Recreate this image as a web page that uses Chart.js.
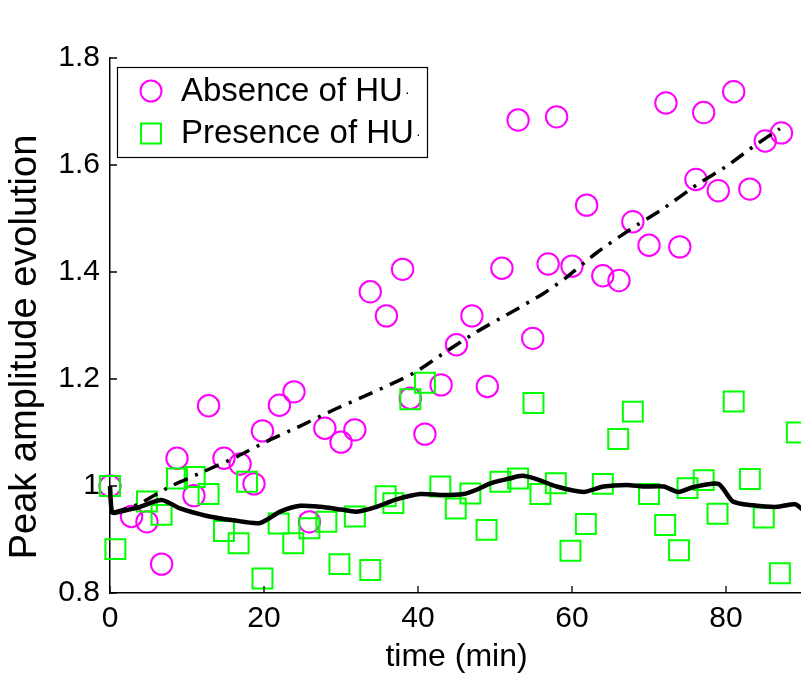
<!DOCTYPE html>
<html><head><meta charset="utf-8">
<script src="https://cdn.jsdelivr.net/npm/chart.js@4.4.1/dist/chart.umd.min.js"></script>
<style>html,body{margin:0;padding:0;background:#fff;overflow:hidden;}#wrap{width:801px;height:673px;overflow:hidden;}canvas{display:block;}</style>
</head><body><div id="wrap"><canvas id="c" width="803" height="673"></canvas></div>
<script>
// ---- data ----
const absenceTime = [0, 2.8, 4.8, 6.7, 8.7, 10.9, 12.8, 14.8, 16.9, 18.7, 19.8, 22.0, 23.9, 25.9, 27.9, 30.0, 31.8, 33.8, 35.9, 38.0, 39.0, 40.9, 43.0, 45.0, 47.0, 49.0, 50.9, 53.0, 54.9, 56.9, 58.0, 60.0, 61.9, 64.0, 66.1, 67.9, 70.0, 72.2, 74.0, 76.1, 77.1, 79.0, 81.0, 83.1, 85.1, 87.2];
const absenceAmp = [1.0, 0.943, 0.933, 0.854, 1.052, 0.982, 1.150, 1.052, 1.041, 1.004, 1.103, 1.151, 1.176, 0.933, 1.108, 1.082, 1.105, 1.363, 1.318, 1.405, 1.164, 1.097, 1.189, 1.264, 1.318, 1.186, 1.407, 1.684, 1.276, 1.415, 1.690, 1.411, 1.525, 1.393, 1.384, 1.494, 1.450, 1.716, 1.447, 1.573, 1.698, 1.552, 1.737, 1.555, 1.645, 1.660];
const presenceTime = [0, 0.7, 4.8, 6.7, 8.7, 11.0, 12.8, 14.8, 16.7, 17.8, 19.8, 21.9, 23.8, 25.9, 28.1, 29.8, 31.8, 33.8, 35.8, 36.8, 39.0, 40.9, 42.9, 44.9, 46.8, 48.9, 50.7, 53.0, 55.0, 55.9, 57.9, 59.8, 61.8, 64.0, 66.0, 67.9, 70.0, 72.1, 73.9, 75.0, 77.1, 78.9, 81.0, 83.1, 84.9, 87.0, 89.2];
const presenceAmp = [1.0, 0.882, 0.971, 0.946, 1.014, 1.017, 0.985, 0.916, 0.893, 1.008, 0.827, 0.930, 0.893, 0.921, 0.933, 0.854, 0.943, 0.843, 0.981, 0.968, 1.162, 1.193, 0.999, 0.958, 0.986, 0.918, 1.008, 1.014, 1.155, 0.985, 1.005, 0.879, 0.929, 1.004, 1.088, 1.139, 0.985, 0.927, 0.880, 0.996, 1.011, 0.948, 1.158, 1.013, 0.941, 0.837, 1.100];
const absenceTrendTime = [0.3, 3.7, 7.8, 11.7, 16.5, 20.3, 24.7, 29.0, 32.9, 37.2, 39.8, 43.3, 47.6, 51.9, 56.3, 59.1, 63.2, 67.5, 71.9, 76.2, 80.1, 83.5, 87.0];
const absenceTrendAmp = [0.95, 0.966, 0.999, 1.024, 1.055, 1.083, 1.112, 1.142, 1.167, 1.195, 1.214, 1.248, 1.288, 1.323, 1.360, 1.388, 1.436, 1.479, 1.519, 1.563, 1.598, 1.634, 1.668];
const presenceTrendTime = [0, 0.3, 1.3, 3.9, 6.7, 9.1, 12.6, 16.0, 19.5, 22.1, 24.7, 27.3, 30.0, 32.0, 34.6, 37.2, 40.3, 43.3, 45.9, 47.6, 49.4, 51.9, 53.5, 55.4, 58.0, 61.5, 64.1, 67.1, 69.3, 71.9, 73.8, 75.8, 79.0, 80.9, 83.5, 86.6, 89.0, 90];
const presenceTrendAmp = [1.0, 0.95, 0.952, 0.961, 0.974, 0.958, 0.944, 0.936, 0.931, 0.952, 0.963, 0.961, 0.956, 0.952, 0.961, 0.975, 0.985, 0.983, 0.985, 0.993, 1.005, 1.014, 1.019, 1.013, 0.999, 0.989, 0.999, 1.002, 0.999, 0.999, 0.989, 0.998, 1.004, 0.971, 0.964, 0.961, 0.966, 0.955];
const seriesNames = ['Absence of HU', 'Presence of HU'];
const xTickValues = [0, 20, 40, 60, 80];
const yTickValues = [0.8, 1.0, 1.2, 1.4, 1.6, 1.8];
const xTitle = 'time (min)';
const yTitle = 'Peak amplitude evolution';

const FONT = "'Liberation Sans', Arial, Helvetica, sans-serif";
const MAGENTA = '#ff00ff';
const GREEN = '#00ff00';
const pts = (xs, ys) => xs.map((x, i) => ({x: x, y: ys[i]}));

const inwardTicks = {
  id: 'inwardTicks',
  afterDraw(chart) {
    const ctx = chart.ctx, xs = chart.scales.x, ys = chart.scales.y, a = chart.chartArea;
    ctx.save();
    ctx.strokeStyle = '#000'; ctx.lineWidth = 1.3;
    ctx.beginPath();
    ys.ticks.forEach(t => { const p = ys.getPixelForValue(t.value); ctx.moveTo(a.left, p); ctx.lineTo(a.left + 7, p); });
    xs.ticks.forEach(t => { const p = xs.getPixelForValue(t.value); ctx.moveTo(p, a.bottom); ctx.lineTo(p, a.bottom - 7); });
    ctx.stroke();
    // y axis title
    ctx.fillStyle = '#000';
    ctx.font = '38px ' + FONT;
    ctx.textAlign = 'center'; ctx.textBaseline = 'middle';
    ctx.translate(26, 347);
    ctx.rotate(-Math.PI / 2);
    ctx.fillText(yTitle, 0, 0);
    ctx.restore();
  }
};

const boxLegend = {
  id: 'boxLegend',
  afterDraw(chart) {
    const ctx = chart.ctx;
    ctx.save();
    ctx.fillStyle = '#fff';
    ctx.fillRect(117, 67, 310, 90);
    ctx.strokeStyle = '#000'; ctx.lineWidth = 1.2;
    ctx.strokeRect(117.5, 67.5, 310, 90);
    ctx.lineWidth = 2;
    ctx.strokeStyle = MAGENTA;
    ctx.beginPath(); ctx.arc(151, 91, 10.5, 0, Math.PI * 2); ctx.stroke();
    ctx.strokeStyle = GREEN;
    ctx.strokeRect(141, 123.5, 20, 20);
    ctx.fillStyle = '#000';
    ctx.textAlign = 'left'; ctx.textBaseline = 'middle';
    ctx.font = '33px ' + FONT;
    const w1 = ctx.measureText(seriesNames[0]).width;
    const w2 = ctx.measureText(seriesNames[1]).width;
    ctx.fillText(seriesNames[0], 181, 92);
    ctx.fillText(seriesNames[1], 181, 134);
    ctx.font = '14px ' + FONT;
    ctx.fillText('\u00b7', 181 + w1 + 2, 93);
    ctx.fillText('\u00b7', 181 + w2 + 2, 135);
    ctx.restore();
  }
};

new Chart(document.getElementById('c'), {
  data: {
    datasets: [
      { type: 'line', label: 'trend absence', data: pts(absenceTrendTime, absenceTrendAmp), borderColor: '#000', borderWidth: 3.5,
        borderDash: [15, 8, 3, 8], pointRadius: 0, fill: false, tension: 0.2, order: 0, clip: false },
      { type: 'line', label: 'trend presence', data: pts(presenceTrendTime, presenceTrendAmp), borderColor: '#000', borderWidth: 4.5,
        pointRadius: 0, fill: false, tension: 0.25, order: 0, clip: false },
      { type: 'scatter', label: seriesNames[1], data: pts(presenceTime, presenceAmp), pointStyle: 'rect', pointRadius: 14.1,
        borderColor: GREEN, backgroundColor: 'rgba(0,0,0,0)', pointBorderWidth: 2, borderWidth: 2, order: 1, clip: false },
      { type: 'scatter', label: seriesNames[0], data: pts(absenceTime, absenceAmp), pointStyle: 'circle', pointRadius: 10.7,
        borderColor: MAGENTA, backgroundColor: 'rgba(0,0,0,0)', pointBorderWidth: 2, borderWidth: 2, order: 2, clip: false }
    ]
  },
  options: {
    responsive: false,
    animation: false,
    events: [],
    layout: { autoPadding: false, padding: { top: 58, right: 0, left: 0, bottom: 0 } },
    plugins: { legend: { display: false }, tooltip: { enabled: false } },
    scales: {
      x: {
        type: 'linear', min: 0, max: 90,
        afterBuildTicks: s => { s.ticks = xTickValues.map(v => ({value: v})); },
        afterFit: s => { s.height = 80; },
        grid: { display: false, drawTicks: false },
        border: { display: true, color: '#000', width: 1.5 },
        ticks: { color: '#000', font: { family: FONT, size: 30 }, padding: 8, maxRotation: 0, callback: v => String(v) },
        title: { display: true, text: xTitle, color: '#000', font: { family: FONT, size: 32, lineHeight: 1 }, padding: { top: 0, bottom: 0 } }
      },
      y: {
        type: 'linear', min: 0.8, max: 1.8,
        afterBuildTicks: s => { s.ticks = yTickValues.map(v => ({value: v})); },
        afterFit: s => { s.width = 110; },
        grid: { display: false, drawTicks: false },
        border: { display: true, color: '#000', width: 1.5 },
        ticks: { color: '#000', font: { family: FONT, size: 30 }, padding: 10, callback: v => String(Math.round(v * 10) / 10) },
        title: { display: false }
      }
    }
  },
  plugins: [inwardTicks, boxLegend]
});
</script>
</body></html>
